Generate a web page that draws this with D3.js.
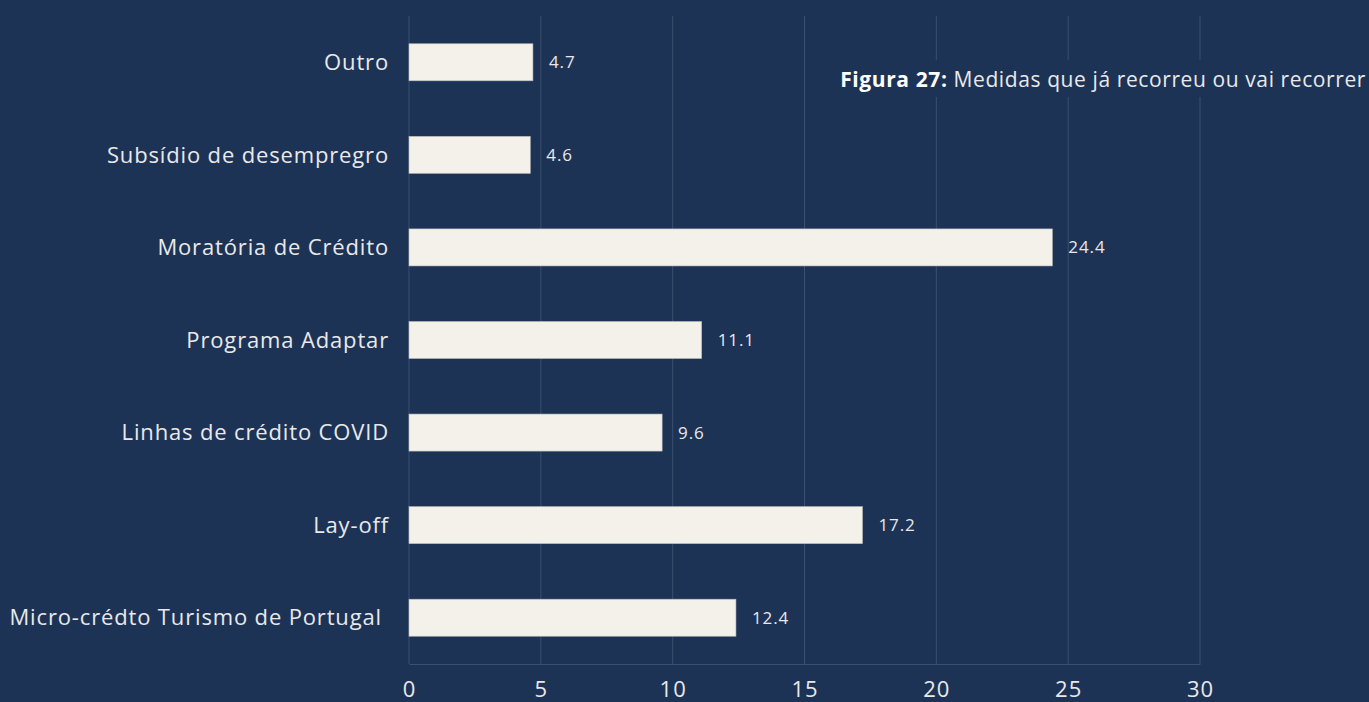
<!DOCTYPE html>
<html>
<head>
<meta charset="utf-8">
<script src="https://cdn.jsdelivr.net/npm/d3@7"></script>
<style>
  html, body { margin: 0; padding: 0; background: #1d3356; }
  svg { display: block; }
  text { font-family: "Open Sans", "Noto Sans", sans-serif; }
</style>
</head>
<body>
<div id="chart"></div>
<script>
// Measures used (%), listed top to bottom
const categories = [
  "Outro",
  "Subsídio de desempregro",
  "Moratória de Crédito",
  "Programa Adaptar",
  "Linhas de crédito COVID",
  "Lay-off",
  "Micro-crédto Turismo de Portugal"
];
const values = [4.7, 4.6, 24.4, 11.1, 9.6, 17.2, 12.4];
const xTicks = [0, 5, 10, 15, 20, 25, 30];
const titleBold = "Figura 27:";
const titleRest = " Medidas que já recorreu ou vai recorrer";

const W = 1369, H = 702;
const bg = "#1d3356", barColor = "#f4f1ea", textColor = "#e9e9e9", gridColor = "#3b4f6e";
const plotLeft = 409, plotRight = 1200, plotTop = 16, plotBottom = 664;

const svg = d3.select("#chart").append("svg").attr("width", W).attr("height", H);
svg.append("rect").attr("width", W).attr("height", H).attr("fill", bg);

const x = d3.scaleLinear().domain([0, 30]).range([plotLeft, plotRight]);
const y = d3.scaleBand().domain(categories).range([plotTop, plotBottom])
  .paddingInner(0.6).paddingOuter(0.3);

// vertical gridlines
svg.append("g").selectAll("line").data(xTicks).join("line")
  .attr("x1", d => x(d)).attr("x2", d => x(d))
  .attr("y1", plotTop).attr("y2", plotBottom)
  .attr("stroke", gridColor).attr("stroke-width", 1);

// x axis
const xAxis = svg.append("g").attr("transform", `translate(0,${plotBottom})`)
  .call(d3.axisBottom(x).tickValues(xTicks).tickSize(0).tickPadding(17));
xAxis.select(".domain").attr("stroke", gridColor);
xAxis.selectAll("text").attr("fill", textColor)
  .style("font-size", "22px").style("letter-spacing", "1px")
  .style("font-family", "'Open Sans', sans-serif");

// bars
svg.append("g").selectAll("rect").data(values).join("rect")
  .attr("x", x(0))
  .attr("y", (d, i) => y(categories[i]))
  .attr("width", d => x(d) - x(0))
  .attr("height", y.bandwidth())
  .attr("fill", barColor)
  .attr("stroke", "#b9b9b9").attr("stroke-width", 0.6);

// value labels
svg.append("g").selectAll("text").data(values).join("text")
  .attr("x", d => x(d) + 16)
  .attr("y", (d, i) => y(categories[i]) + y.bandwidth() / 2)
  .attr("dy", "0.35em")
  .attr("fill", textColor).style("font-size", "17px").style("letter-spacing", "0.9px")
  .text(d => d.toString());

// category labels
svg.append("g").selectAll("text").data(categories).join("text")
  .attr("x", (d, i) => i === categories.length - 1 ? 382 : 389)
  .attr("y", d => y(d) + y.bandwidth() / 2)
  .attr("dy", "0.35em")
  .attr("text-anchor", "end")
  .attr("fill", textColor).style("font-size", "22px").style("letter-spacing", "0.85px")
  .text(d => d);

// title on a background panel
svg.append("rect").attr("x", 815).attr("y", 60).attr("width", W - 815).attr("height", 37).attr("fill", bg);
const t = svg.append("text").attr("x", 1366).attr("y", 87).attr("text-anchor", "end")
  .attr("fill", textColor).style("font-size", "21px").style("letter-spacing", "0.6px");
t.append("tspan").attr("font-weight", "bold").attr("fill", "#ffffff").text(titleBold);
t.append("tspan").text(titleRest);
</script>
</body>
</html>
